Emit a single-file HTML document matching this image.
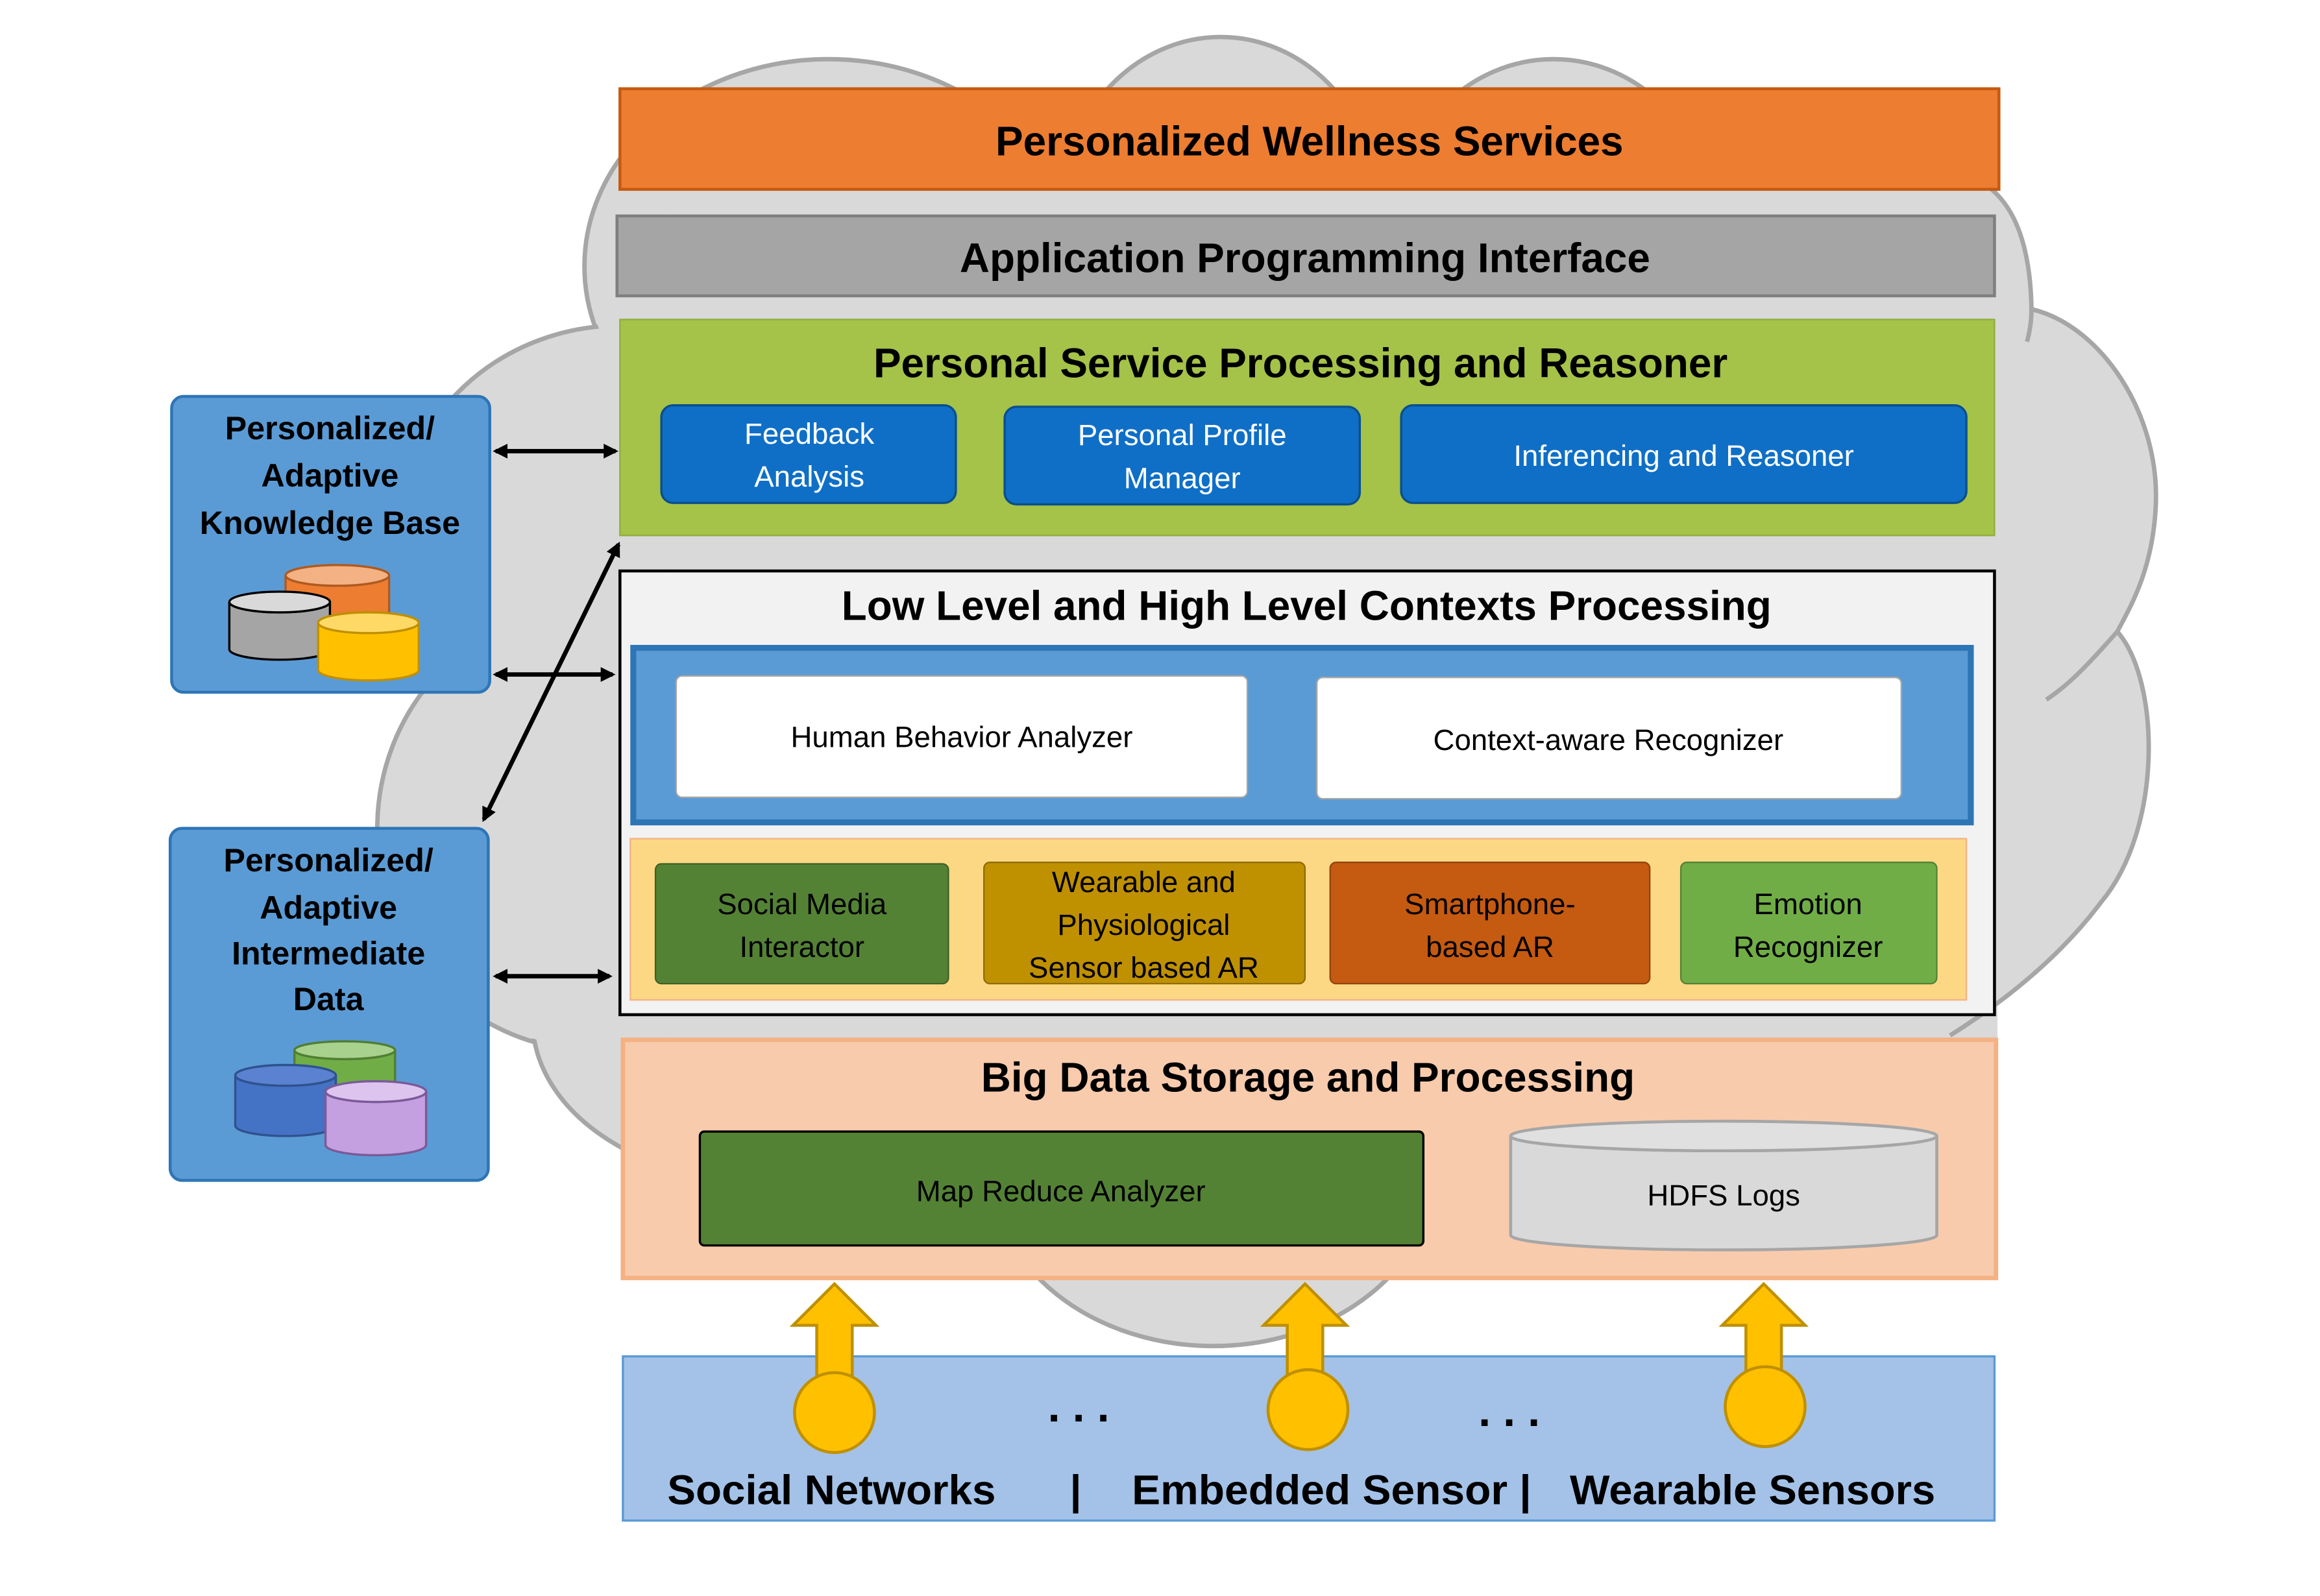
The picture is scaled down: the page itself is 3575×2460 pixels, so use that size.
<!DOCTYPE html>
<html><head><meta charset="utf-8"><style>
html,body{margin:0;padding:0;background:#fff;}
svg{display:block;}
text{font-family:"Liberation Sans",sans-serif;}
.t{font-weight:bold;font-size:28px;fill:#000;text-anchor:middle;}
.w{font-size:20px;fill:#fff;text-anchor:middle;}
.b{font-size:20px;fill:#000;text-anchor:middle;}
.k{font-weight:bold;font-size:22px;fill:#000;text-anchor:middle;}
</style></head><body>
<svg width="3575" height="2460" viewBox="0 0 1568 1079" preserveAspectRatio="none" xmlns="http://www.w3.org/2000/svg">
<defs>
<marker id="ah" markerWidth="10" markerHeight="10" refX="8" refY="5" orient="auto-start-reverse" markerUnits="userSpaceOnUse"><path d="M0,0 L10,5 L0,10 z" fill="#000"/></marker>
</defs>
<rect width="1568" height="1079" fill="#fff"/>
<!-- cloud -->
<g stroke="#a6a6a6" stroke-width="3" fill="#d9d9d9">
<ellipse cx="560" cy="180" rx="165" ry="140"/>
<ellipse cx="825" cy="150" rx="110" ry="125"/>
<ellipse cx="1050" cy="160" rx="110" ry="120"/>
<ellipse cx="420" cy="360" rx="150" ry="140"/>
<ellipse cx="400" cy="560" rx="145" ry="150"/>
<ellipse cx="520" cy="690" rx="160" ry="110"/>
<ellipse cx="820" cy="790" rx="150" ry="120"/>
</g>
<g fill="#d9d9d9">
<ellipse cx="560" cy="180" rx="163" ry="138"/>
<ellipse cx="825" cy="150" rx="108" ry="123"/>
<ellipse cx="1050" cy="160" rx="108" ry="118"/>
<ellipse cx="420" cy="360" rx="148" ry="138"/>
<ellipse cx="400" cy="560" rx="143" ry="148"/>
<ellipse cx="520" cy="690" rx="158" ry="108"/>
<ellipse cx="820" cy="790" rx="148" ry="118"/>
<rect x="450" y="60" width="900" height="760"/>
<path d="M1330,128 L1346,128 Q1372,150 1373,209 C1420,220 1460,280 1457,342 C1455,385 1440,415 1431,427 C1460,460 1462,560 1420,610 C1390,650 1350,680 1318,700 L1330,700 Z"/>
</g>
<g fill="none" stroke="#a6a6a6" stroke-width="3">
<path d="M1346,128 Q1372,150 1373,209 Q1373,220 1370,231"/>
<path d="M1373,209 C1420,220 1460,280 1457,342 C1455,385 1440,410 1431,427 C1415,445 1400,462 1383,473"/>
<path d="M1431,427 C1460,460 1462,560 1420,610 C1390,650 1350,680 1318,700"/>
</g>
<!-- top bars -->
<rect x="419" y="60" width="932" height="68" fill="#ed7d31" stroke="#c55a11" stroke-width="2"/>
<text class="t" x="885" y="105">Personalized Wellness Services</text>
<rect x="417" y="146" width="931" height="54" fill="#a5a5a5" stroke="#7f7f7f" stroke-width="2"/>
<text class="t" x="882" y="184">Application Programming Interface</text>
<!-- green -->
<rect x="419" y="216" width="929" height="146" fill="#a5c249" stroke="#8fae3a" stroke-width="1"/>
<text class="t" x="879" y="255">Personal Service Processing and Reasoner</text>
<g fill="#0f6fc6" stroke="#0b4f8c" stroke-width="1.5">
<rect x="447" y="274" width="199" height="66" rx="8"/>
<rect x="679" y="275" width="240" height="66" rx="8"/>
<rect x="947" y="274" width="382" height="66" rx="8"/>
</g>
<text class="w" x="547" y="300">Feedback</text><text class="w" x="547" y="329">Analysis</text>
<text class="w" x="799" y="301">Personal Profile</text><text class="w" x="799" y="330">Manager</text>
<text class="w" x="1138" y="315">Inferencing and Reasoner</text>
<!-- contexts -->
<rect x="419" y="386" width="929" height="300" fill="#f2f2f2" stroke="#000" stroke-width="2"/>
<text class="t" x="883" y="419">Low Level and High Level Contexts Processing</text>
<rect x="428" y="438" width="904" height="118" fill="#5b9bd5" stroke="#2e75b6" stroke-width="4"/>
<rect x="457" y="457" width="386" height="82" rx="4" fill="#fff" stroke="#a6a6a6"/>
<rect x="890" y="458" width="395" height="82" rx="4" fill="#fff" stroke="#a6a6a6"/>
<text class="b" x="650" y="505">Human Behavior Analyzer</text>
<text class="b" x="1087" y="507">Context-aware Recognizer</text>
<rect x="426" y="567" width="903" height="109" fill="#fdd884" stroke="#f4b183" stroke-width="1"/>
<rect x="443" y="584" width="198" height="81" rx="4" fill="#548235" stroke="#3d6126"/>
<rect x="665" y="583" width="217" height="82" rx="4" fill="#bf9000" stroke="#8f6c00"/>
<rect x="899" y="583" width="216" height="82" rx="4" fill="#c55a11" stroke="#94430d"/>
<rect x="1136" y="583" width="173" height="82" rx="4" fill="#70ad47" stroke="#548235"/>
<text class="b" x="542" y="618">Social Media</text><text class="b" x="542" y="647">Interactor</text>
<text class="b" x="773" y="603">Wearable and</text><text class="b" x="773" y="632">Physiological</text><text class="b" x="773" y="661">Sensor based AR</text>
<text class="b" x="1007" y="618">Smartphone-</text><text class="b" x="1007" y="647">based AR</text>
<text class="b" x="1222" y="618">Emotion</text><text class="b" x="1222" y="647">Recognizer</text>
<!-- big data -->
<rect x="421" y="703" width="928" height="161" fill="#f8cbad" stroke="#f4b183" stroke-width="3"/>
<text class="t" x="884" y="738">Big Data Storage and Processing</text>
<rect x="473" y="765" width="489" height="77" rx="3" fill="#548235" stroke="#000" stroke-width="1.5"/>
<text class="b" x="717" y="812">Map Reduce Analyzer</text>
<path d="M1021,768 A144,10 0 0 0 1309,768 V835 A144,10 0 0 1 1021,835 Z" fill="#d9d9d9" stroke="#a6a6a6" stroke-width="2"/>
<ellipse cx="1165" cy="768" rx="144" ry="10" fill="#e0e0e0" stroke="#a6a6a6" stroke-width="2"/>
<text class="b" x="1165" y="815">HDFS Logs</text>
<!-- bottom -->
<rect x="421" y="917" width="927" height="111" fill="#a4c2e8" stroke="#5b9bd5" stroke-width="1.5"/>
<g fill="#ffc000" stroke="#bf9000" stroke-width="2">
<path d="M552,935 V896 H536 L564,868 L592,896 H576 V935 Z"/>
<circle cx="564" cy="955" r="27"/>
<path d="M870,935 V896 H854 L882,868 L910,896 H894 V935 Z"/>
<circle cx="884" cy="953" r="27"/>
<path d="M1180,935 V896 H1164 L1192,868 L1220,896 H1204 V935 Z"/>
<circle cx="1193" cy="951" r="27"/>
</g>
<text x="729" y="961" font-size="30" font-weight="bold" text-anchor="middle">. . .</text>
<text x="1020" y="964" font-size="30" font-weight="bold" text-anchor="middle">. . .</text>
<g font-size="28" font-weight="bold">
<text x="562" y="1017" text-anchor="middle" textLength="222" lengthAdjust="spacingAndGlyphs">Social Networks</text>
<text x="727" y="1017" text-anchor="middle">|</text>
<text x="765" y="1017" textLength="270" lengthAdjust="spacingAndGlyphs">Embedded Sensor |</text>
<text x="1061" y="1017" textLength="247" lengthAdjust="spacingAndGlyphs">Wearable Sensors</text>
</g>
<!-- left boxes -->
<rect x="116" y="268" width="215" height="200" rx="8" fill="#5b9bd5" stroke="#2e75b6" stroke-width="2"/>
<text class="k" x="223" y="297">Personalized/</text>
<text class="k" x="223" y="329">Adaptive</text>
<text class="k" x="223" y="361">Knowledge Base</text>
<rect x="115" y="560" width="215" height="238" rx="8" fill="#5b9bd5" stroke="#2e75b6" stroke-width="2"/>
<text class="k" x="222" y="589">Personalized/</text>
<text class="k" x="222" y="621">Adaptive</text>
<text class="k" x="222" y="652">Intermediate</text>
<text class="k" x="222" y="683">Data</text>
<g stroke-width="1.5">
<path d="M193,389 A35,7 0 0 0 263,389 V422 A35,7 0 0 1 193,422 Z" fill="#ed7d31" stroke="#ae5a21"/><ellipse cx="228" cy="389" rx="35" ry="7" fill="#f4b183" stroke="#ae5a21"/>
<path d="M155,407 A34,7 0 0 0 223,407 V439 A34,7 0 0 1 155,439 Z" fill="#a5a5a5" stroke="#000"/><ellipse cx="189" cy="407" rx="34" ry="7" fill="#d9d9d9" stroke="#000"/>
<path d="M215,421 A34,7 0 0 0 283,421 V453 A34,7 0 0 1 215,453 Z" fill="#ffc000" stroke="#bf9000"/><ellipse cx="249" cy="421" rx="34" ry="7" fill="#ffd966" stroke="#bf9000"/>
<path d="M199,710 A34,6 0 0 0 267,710 V740 A34,6 0 0 1 199,740 Z" fill="#70ad47" stroke="#507e32"/><ellipse cx="233" cy="710" rx="34" ry="6" fill="#a9d18e" stroke="#507e32"/>
<path d="M159,727 A34,7 0 0 0 227,727 V761 A34,7 0 0 1 159,761 Z" fill="#4472c4" stroke="#2f528f"/><ellipse cx="193" cy="727" rx="34" ry="7" fill="#5b82d0" stroke="#2f528f"/>
<path d="M220,738 A34,7 0 0 0 288,738 V774 A34,7 0 0 1 220,774 Z" fill="#c5a0e0" stroke="#7a5a99"/><ellipse cx="254" cy="738" rx="34" ry="7" fill="#dcc4ee" stroke="#7a5a99"/>
</g>
<!-- arrows -->
<g stroke="#000" stroke-width="3" marker-start="url(#ah)" marker-end="url(#ah)">
<line x1="335" y1="305" x2="416" y2="305"/>
<line x1="335" y1="456" x2="414" y2="456"/>
<line x1="335" y1="660" x2="412" y2="660"/>
<line x1="327" y1="554" x2="418" y2="368"/>
</g>
</svg>
</body></html>
